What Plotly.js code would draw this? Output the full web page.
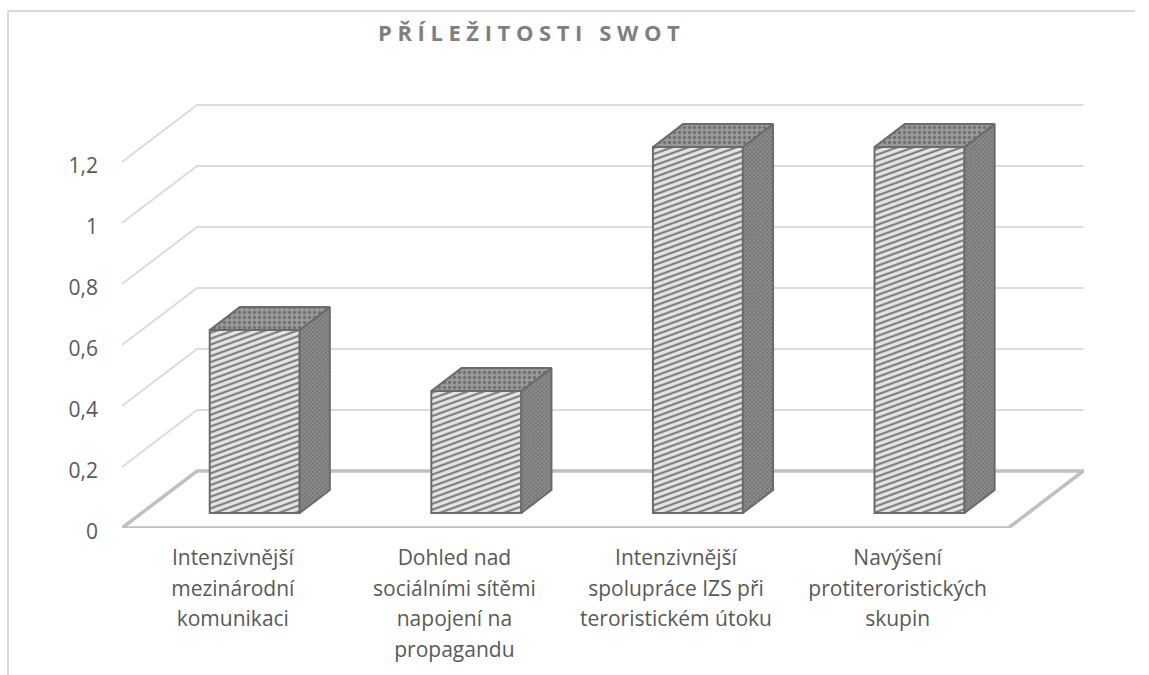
<!DOCTYPE html>
<html><head><meta charset="utf-8">
<script src="https://cdn.plot.ly/plotly-3.0.1.min.js"></script>
<style>html,body{margin:0;padding:0;background:#fff}#c{width:1149px;height:675px}
.gtitle{letter-spacing:5.6px}</style>
</head><body><div id="c"></div>
<script>
const categories = [
  "Intenzivnější<br>mezinárodní<br>komunikaci",
  "Dohled nad<br>sociálními sítěmi<br>napojení na<br>propagandu",
  "Intenzivnější<br>spolupráce IZS při<br>teroristickém útoku",
  "Navýšení<br>protiteroristických<br>skupin"
];
const values = [0.6, 0.4, 1.2, 1.2];
const tickValues = [0, 0.2, 0.4, 0.6, 0.8, 1, 1.2];
const tickLabels = ["0", "0,2", "0,4", "0,6", "0,8", "1", "1,2"];

// Oblique projection of the 3-D box, in axis units
const dx = 75 / 221.6, dy = 57 / 305;
const depthFront = 0.263, depthBack = 0.665;
const barWidth = 0.406, barGap = -0.5 + 68 / 221.6 + barWidth / 2;
const W = barWidth / 2;
const P = (x, v, d) => [x + dx * d, v + dy * d];

const idx = categories.map((_, i) => i);
const xmin = -0.5, xmax = categories.length - 0.5;

const pathOf = pts => pts.map((p, i) => (i ? "L" : "M") + p[0] + "," + p[1]).join(" ");
// Walls and floor sit behind the bars, so they go on the layer below the traces
const wallShapes = tickValues.slice(1).map(v => ({
  type: "path", layer: "below", xref: "x", yref: "y",
  path: pathOf([P(xmin, v, 0), P(xmin, v, 1), P(xmax, v, 1)]),
  line: { color: "#dcdcdc", width: 2 }
}));
const floorShape = {
  type: "path", layer: "below", xref: "x", yref: "y",
  path: pathOf([P(xmin, 0, 0), P(xmin, 0, 1), P(xmax, 0, 1), P(xmax, 0, 0), P(xmin, 0, 0)]),
  line: { color: "#c0c0c0", width: 3.5 }
};

const face = (fn) => {
  const xs = [], ys = [];
  idx.forEach(i => {
    fn(i + barGap, values[i]).forEach(p => { xs.push(p[0]); ys.push(p[1]); });
    xs.push(null); ys.push(null);
  });
  return { x: xs, y: ys };
};
const topFace = face((c, v) => [P(c - W, v, depthFront), P(c - W, v, depthBack), P(c + W, v, depthBack), P(c + W, v, depthFront), P(c - W, v, depthFront)]);
const sideFace = face((c, v) => [P(c + W, 0, depthFront), P(c + W, 0, depthBack), P(c + W, v, depthBack), P(c + W, v, depthFront), P(c + W, 0, depthFront)]);

const edge = { color: "#6b6b6b", width: 2 };
const barX = idx.map(i => P(i + barGap, 0, depthFront)[0]);
const traces = [
  { type: "bar", x: barX, y: values, base: dy * depthFront, width: barWidth,
    marker: { color: "#e4e4e4", line: edge, pattern: { shape: "/", fgcolor: "#7a7a7a", bgcolor: "#e6e6e6", size: 5.5, solidity: 0.4 } } },
  { type: "scatter", mode: "lines", fill: "toself", x: sideFace.x, y: sideFace.y, line: edge, fillcolor: "#777777",
    fillpattern: { shape: "x", fgcolor: "#686868", bgcolor: "#8c8c8c", size: 3, solidity: 0.4 }, hoverinfo: "skip" },
  { type: "scatter", mode: "lines", fill: "toself", x: topFace.x, y: topFace.y, line: edge, fillcolor: "#888888",
    fillpattern: { shape: ".", fgcolor: "#707070", bgcolor: "#9a9a9a", size: 5, solidity: 0.35 }, hoverinfo: "skip" }
];

const mL = 122, mT = 90, pW = 962, pH = 438;
const font = { family: "'Open Sans', sans-serif", size: 21, color: "#595959" };
const layout = {
  width: 1149, height: 675, showlegend: false,
  paper_bgcolor: "#fff", plot_bgcolor: "rgba(0,0,0,0)",
  margin: { l: mL, t: mT, r: 1149 - mL - pW, b: 675 - mT - pH, pad: 0 },
  separators: ", ",
  title: { text: "<b>PŘÍLEŽITOSTI SWOT</b>", x: 378 / 1149, xref: "container", xanchor: "left", y: 1 - 33 / 675, yref: "container", yanchor: "middle",
    font: { family: "'Open Sans', sans-serif", size: 22, color: "#7f7f7f" } },
  font: font,
  xaxis: { range: [xmin, xmin + pW / 221.6], tickmode: "array", tickvals: idx, ticktext: categories, showgrid: false, zeroline: false,
    showline: false, ticks: "", tickfont: font, tickangle: 0, ticklabelstandoff: 15, fixedrange: true },
  yaxis: { range: [0, pH / 305], tickmode: "array", tickvals: tickValues, ticktext: tickLabels, showgrid: false, zeroline: false,
    showline: false, ticks: "", tickfont: font, ticklabelstandoff: 23, ticklabelshift: 4, fixedrange: true },
  shapes: [
    ...wallShapes, floorShape,
    { type: "line", xref: "paper", yref: "paper", x0: (8 - mL) / pW, x1: (8 - mL) / pW, y0: (mT + pH - 675) / pH, y1: (mT + pH - 11) / pH, line: { color: "#d9d9d9", width: 2 } },
    { type: "line", xref: "paper", yref: "paper", x0: (8 - mL) / pW, x1: (1135 - mL) / pW, y0: (mT + pH - 11) / pH, y1: (mT + pH - 11) / pH, line: { color: "#d9d9d9", width: 2 } }
  ]
};
Plotly.newPlot("c", traces, layout, { displayModeBar: false, staticPlot: true }).then(() => {
  const seen = new Set();
  document.querySelectorAll('.barlayer .point path').forEach(el => {
    const m = /url\(["']?#([^"')]+)["']?\)/.exec(el.style.fill || el.getAttribute('fill') || '');
    if (m && !seen.has(m[1])) {
      seen.add(m[1]);
      const pat = document.getElementById(m[1]);
      if (pat) pat.setAttribute('patternTransform', 'rotate(25)');
    }
  });
  document.querySelectorAll('.xtick text tspan.line').forEach(t => {
    const n = parseFloat(t.getAttribute('dy'));
    if (n) t.setAttribute('dy', (n * 30.5 / 27.3) + 'em');
  });
});
</script></body></html>
